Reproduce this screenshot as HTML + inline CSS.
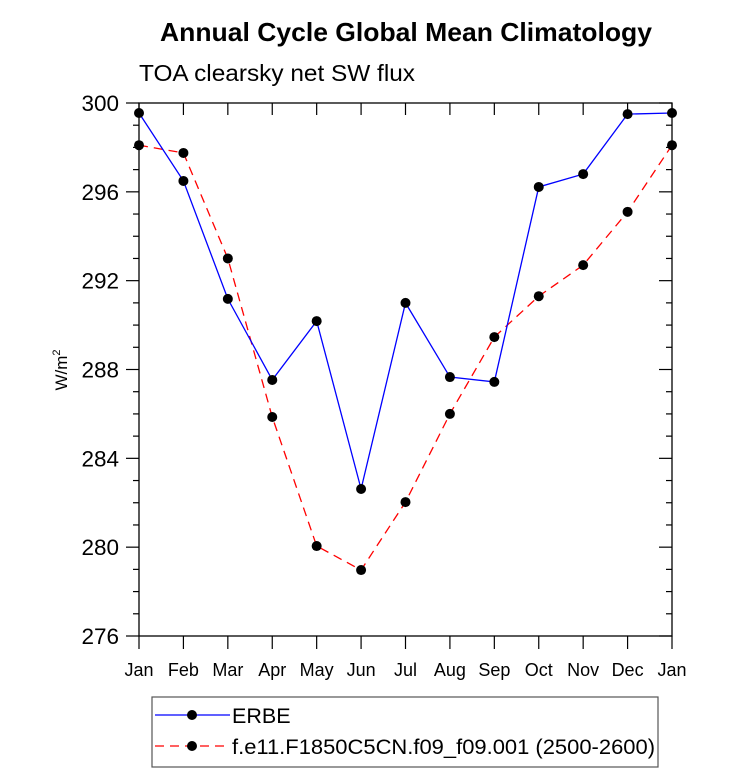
<!DOCTYPE html>
<html><head><meta charset="utf-8"><style>
body{margin:0;background:#fff;}
svg{display:block;font-family:"Liberation Sans",sans-serif;}
</style></head><body>
<svg id="chart" width="733" height="773" viewBox="0 0 733 773">
<text x="406" y="41" text-anchor="middle" font-size="26" font-weight="bold" textLength="492" lengthAdjust="spacingAndGlyphs">Annual Cycle Global Mean Climatology</text>
<text x="139" y="81" font-size="23" textLength="276" lengthAdjust="spacingAndGlyphs">TOA clearsky net SW flux</text>
<text transform="translate(67,370) rotate(-90)" text-anchor="middle" font-size="17">W/m<tspan dy="-7" font-size="11">2</tspan></text>
<g id="axes"></g>
<g id="series"></g>
<g>
<rect x="152" y="697" width="506" height="70" fill="none" stroke="#555" stroke-width="1.2"/>
<line x1="155" y1="715" x2="230" y2="715" stroke="#00f" stroke-width="1.3"/>
<circle cx="192" cy="715" r="5" fill="#000"/>
<text x="232" y="723" font-size="21.5">ERBE</text>
<line x1="155" y1="746" x2="230" y2="746" stroke="#f00" stroke-width="1.3" stroke-dasharray="9,6"/>
<circle cx="192" cy="746" r="5" fill="#000"/>
<text x="232" y="754" font-size="21.5" textLength="423" lengthAdjust="spacingAndGlyphs">f.e11.F1850C5CN.f09_f09.001 (2500-2600)</text>
</g>
</svg>
<script>
const months = ["Jan","Feb","Mar","Apr","May","Jun","Jul","Aug","Sep","Oct","Nov","Dec","Jan"];
const erbe = [299.55,296.49,291.18,287.53,290.18,282.62,291.0,287.66,287.44,296.22,296.8,299.5,299.55];
const model = [298.1,297.75,293.0,285.86,280.05,278.97,282.03,286.0,289.46,291.3,292.7,295.1,298.1];
const yTicks = [276,280,284,288,292,296,300];
const NS="http://www.w3.org/2000/svg";
const L=139,R=672,T=103,B=636,yMin=276,yMax=300;
const xs=i=>L+(R-L)*i/(months.length-1);
const ys=v=>B-(B-T)*(v-yMin)/(yMax-yMin);
function mk(tag,attrs,parent){const e=document.createElementNS(NS,tag);for(const k in attrs)e.setAttribute(k,attrs[k]);parent.appendChild(e);return e;}
const ax=document.getElementById('axes');
const frame=mk('rect',{x:L,y:T,width:R-L,height:B-T,fill:'none',stroke:'#000','stroke-width':1.3},ax);


for(let v=yMin;v<=yMax;v++){
  const y=ys(v),major=yTicks.includes(v),len=major?13:6;
  mk('line',{x1:L-len,y1:y,x2:L,y2:y,stroke:'#000','stroke-width':1.2},ax);
  mk('line',{x1:R,y1:y,x2:R-len,y2:y,stroke:'#000','stroke-width':1.2},ax);
}
yTicks.forEach(v=>{
  const t=mk('text',{x:L-20,y:ys(v)+8,'text-anchor':'end','font-size':22.5},ax);
  t.textContent=v;
  
  
});
months.forEach((m,i)=>{
  const x=xs(i);
  mk('line',{x1:x,y1:B,x2:x,y2:B+13,stroke:'#000','stroke-width':1.2},ax);
  mk('line',{x1:x,y1:T,x2:x,y2:T+12,stroke:'#000','stroke-width':1.2},ax);
  const t=mk('text',{x:x,y:B+40,'text-anchor':'middle','font-size':18},ax);
  t.textContent=m;
  
  
});
const sg=document.getElementById('series');
function draw(vals,color,dash,name){
  const p=mk('polyline',{points:vals.map((v,i)=>xs(i)+','+ys(v)).join(' '),fill:'none',stroke:color,'stroke-width':1.3,'stroke-dasharray':dash},sg);
  
  
  vals.forEach((v,i)=>{
    const c=mk('circle',{cx:xs(i),cy:ys(v),r:5,fill:'#000'},sg);
    
    
  });
}
draw(model,'#f00','9,6','model');
draw(erbe,'#00f','none','erbe');
</script>
</body></html>
